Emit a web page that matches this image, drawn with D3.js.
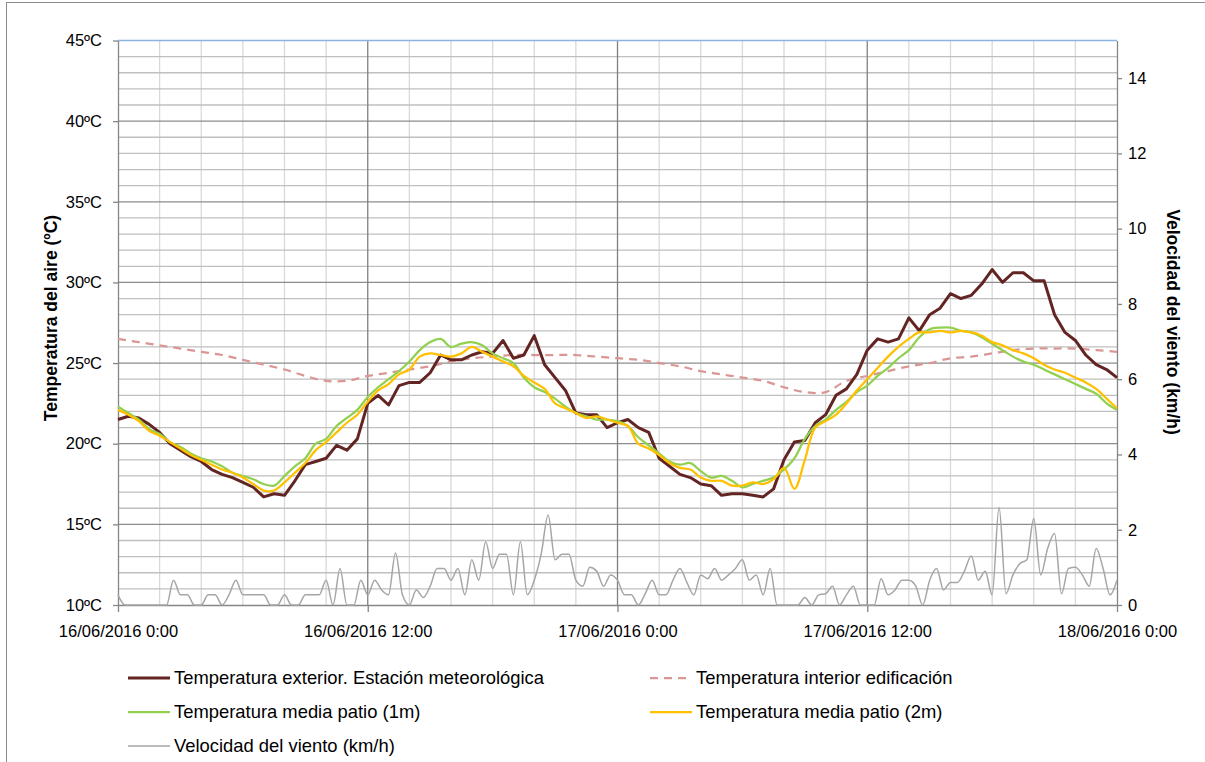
<!DOCTYPE html>
<html>
<head>
<meta charset="utf-8">
<script src="https://cdn.jsdelivr.net/npm/d3@7"></script>
<style>
  body { margin: 0; background: #fff; }
  svg text { font-family: "Liberation Sans", Arial, sans-serif; fill: #000; }
</style>
</head>
<body>
<svg id="chart"></svg>
<script>
// series every 30 min, from 16/06/2016 0:00 to 18/06/2016 0:00
var tExterior = [21.5, 21.7, 21.6, 21.2, 20.7, 20.0, 19.6, 19.2, 18.9, 18.4, 18.1, 17.9, 17.6, 17.3, 16.7, 16.9,
    16.8, 17.7, 18.7, 18.9, 19.1, 19.9, 19.6, 20.3, 22.5, 23.0, 22.4, 23.6, 23.8, 23.8, 24.4, 25.5,
    25.2, 25.2, 25.5, 25.7, 25.6, 26.4, 25.3, 25.5, 26.7, 24.9, 24.1, 23.3, 21.9, 21.8, 21.8, 21.0,
    21.3, 21.5, 21.0, 20.7, 19.1, 18.6, 18.1, 17.9, 17.5, 17.4, 16.8, 16.9, 16.9, 16.8, 16.7, 17.2,
    19.0, 20.1, 20.2, 21.3, 21.8, 23.0, 23.4, 24.3, 25.8, 26.5, 26.3, 26.5, 27.8, 27.0, 28.0, 28.4,
    29.3, 29.0, 29.2, 29.9, 30.8, 30.0, 30.6, 30.6, 30.1, 30.1, 28.0, 26.9, 26.4, 25.5, 24.9, 24.6, 24.1];
var tPatio1m = [22.3, 21.9, 21.5, 20.9, 20.6, 20.1, 19.8, 19.4, 19.1, 18.9, 18.6, 18.2, 18.0, 17.8, 17.5, 17.4,
    18.0, 18.6, 19.1, 20.0, 20.3, 21.1, 21.6, 22.1, 22.9, 23.5, 24.0, 24.5, 25.1, 25.8, 26.3, 26.5,
    26.0, 26.2, 26.3, 26.1, 25.6, 25.3, 25.0, 24.1, 23.5, 23.2, 22.8, 22.3, 21.9, 21.7, 21.5, 21.5,
    21.4, 21.1, 20.4, 19.9, 19.4, 18.9, 18.7, 18.8, 18.3, 17.9, 18.0, 17.7, 17.3, 17.5, 17.7, 17.9,
    18.4, 19.1, 20.3, 21.1, 21.5, 22.1, 22.6, 23.2, 23.6, 24.2, 24.7, 25.3, 25.8, 26.6, 27.1, 27.2,
    27.2, 27.0, 26.9, 26.6, 26.2, 25.8, 25.4, 25.1, 24.9, 24.6, 24.3, 24.0, 23.7, 23.4, 23.1, 22.5, 22.1];
var tPatio2m = [22.1, 21.8, 21.4, 20.8, 20.5, 20.1, 19.7, 19.3, 19.0, 18.7, 18.4, 18.2, 17.9, 17.5, 17.1, 17.1,
    17.6, 18.2, 18.8, 19.6, 20.1, 20.7, 21.3, 21.8, 22.6, 23.3, 23.7, 24.3, 24.6, 25.4, 25.6, 25.5,
    25.4, 25.6, 26.0, 25.7, 25.4, 25.1, 24.8, 24.2, 23.8, 23.4, 22.5, 22.2, 21.9, 21.6, 21.7, 21.5,
    21.3, 21.1, 20.0, 19.7, 19.3, 18.8, 18.5, 18.4, 17.9, 17.7, 17.7, 17.4, 17.4, 17.6, 17.5, 17.8,
    18.5, 17.2, 19.0, 21.0, 21.4, 21.8, 22.5, 23.3, 24.0, 24.7, 25.4, 26.0, 26.5, 26.9, 26.9, 27.0,
    26.9, 27.0, 26.9, 26.7, 26.3, 26.1, 25.8, 25.6, 25.3, 24.9, 24.6, 24.4, 24.1, 23.8, 23.4, 22.8, 22.2];
// hourly
var tInterior = [26.5, 26.3, 26.1, 25.9, 25.7, 25.5, 25.2, 24.9, 24.6, 24.2, 23.9, 23.9, 24.2, 24.4, 24.6, 24.8,
    25.1, 25.3, 25.4, 25.5, 25.5, 25.5, 25.5, 25.4, 25.3, 25.2, 25.0, 24.8, 24.5, 24.3, 24.1, 23.9,
    23.5, 23.2, 23.2, 23.9, 24.2, 24.5, 24.8, 25.0, 25.3, 25.4, 25.6, 25.8, 25.9, 25.9, 25.9, 25.8, 25.7];
// every 20 min
var wind = [0.27, 0, 0, 0, 0, 0, 0, 0, 0.66, 0.27, 0.27, 0, 0, 0.27, 0.27, 0, 0.27, 0.66, 0.27, 0.27,
    0.27, 0.27, 0, 0, 0.27, 0, 0, 0.27, 0.27, 0.27, 0.66, 0, 0.97, 0, 0, 0.66, 0.27, 0.66, 0.4, 0.27,
    1.38, 0.27, 0, 0.4, 0.2, 0.5, 0.97, 0.97, 0.66, 0.97, 0.27, 1.2, 0.66, 1.68, 0.97, 1.35, 1.35, 0.27, 1.68, 0.27,
    0.66, 1.35, 2.39, 1.2, 1.35, 1.35, 0.66, 0.5, 1.0, 0.9, 0.5, 0.8, 0.66, 0.27, 0.27, 0, 0.3, 0.66, 0.27, 0.27,
    0.66, 0.97, 0.6, 0.27, 0.8, 0.7, 0.97, 0.66, 0.8, 0.97, 1.2, 0.66, 0.8, 0.27, 0.97, 0, 0, 0, 0, 0.2,
    0, 0.27, 0.3, 0.5, 0, 0.27, 0.5, 0, 0, 0, 0.7, 0.27, 0.4, 0.66, 0.66, 0.5, 0, 0.66, 0.97, 0.4,
    0.6, 0.6, 0.9, 1.3, 0.66, 0.9, 0.27, 2.6, 0.3, 0.8, 1.1, 1.2, 2.3, 0.8, 1.5, 1.9, 0.3, 0.97, 1.0, 0.8,
    0.5, 1.5, 0.97, 0.27, 0.66];

var tempTicks = [10, 15, 20, 25, 30, 35, 40, 45];
var windTicks = [0, 2, 4, 6, 8, 10, 12, 14];

var legendItems = [
    { name: "Temperatura exterior. Estación meteorológica", color: "#632523", width: 3, dash: null },
    { name: "Temperatura interior edificación", color: "#d99694", width: 2.25, dash: "8,6" },
    { name: "Temperatura media patio (1m)", color: "#92d050", width: 2.25, dash: null },
    { name: "Temperatura media patio (2m)", color: "#ffc000", width: 2.25, dash: null },
    { name: "Velocidad del viento (km/h)", color: "#a6a6a6", width: 1.5, dash: null }
];

var width = 1205,
    height = 762;
var plotLeft = 118, plotRight = 1117, plotTop = 40.5, plotBottom = 605;

var svg = d3.select("#chart")
    .attr("width", width)
    .attr("height", height);

// chart border (cropped on the right and bottom)
svg.append("rect")
    .attr("x", 6.5).attr("y", 2.5)
    .attr("width", 1300).attr("height", 900)
    .attr("fill", "none").attr("stroke", "#8c8c8c").attr("stroke-width", 1);

var start = new Date(2016, 5, 16, 0, 0);
var end = new Date(2016, 5, 18, 0, 0);
function timeAt(i, minutes) {
    return new Date(start.getTime() + i * minutes * 60000);
}

var x = d3.scaleTime().domain([start, end]).range([plotLeft, plotRight]);
var y = d3.scaleLinear().domain([10, 45]).range([plotBottom, plotTop]);
var y2 = d3.scaleLinear().domain([0, 15]).range([plotBottom, plotTop]);

// grid
var grid = svg.append("g");
grid.selectAll(".vminor")
    .data(d3.range(0, 49, 2).filter(function (h) { return h % 12 != 0; }))
    .enter().append("line")
    .attr("x1", function (h) { return x(timeAt(h, 60)); })
    .attr("x2", function (h) { return x(timeAt(h, 60)); })
    .attr("y1", plotTop).attr("y2", plotBottom)
    .attr("stroke", "#d9d9d9").attr("stroke-width", 1.3);
grid.selectAll(".hminor")
    .data(d3.range(11, 45).filter(function (t) { return t % 5 != 0; }))
    .enter().append("line")
    .attr("x1", plotLeft).attr("x2", plotRight)
    .attr("y1", function (t) { return y(t); })
    .attr("y2", function (t) { return y(t); })
    .attr("stroke", "#bfbfbf").attr("stroke-width", 1.3);
grid.selectAll(".hmajor")
    .data([15, 20, 25, 30, 35, 40])
    .enter().append("line")
    .attr("x1", plotLeft).attr("x2", plotRight)
    .attr("y1", function (t) { return y(t); })
    .attr("y2", function (t) { return y(t); })
    .attr("stroke", "#8c8c8c").attr("stroke-width", 1.3);
grid.selectAll(".vmajor")
    .data([12, 24, 36])
    .enter().append("line")
    .attr("x1", function (h) { return x(timeAt(h, 60)); })
    .attr("x2", function (h) { return x(timeAt(h, 60)); })
    .attr("y1", plotTop).attr("y2", plotBottom)
    .attr("stroke", "#808080").attr("stroke-width", 1.3);
grid.append("line")
    .attr("x1", plotLeft).attr("x2", plotRight)
    .attr("y1", y(45)).attr("y2", y(45))
    .attr("stroke", "#8db3e2").attr("stroke-width", 1.3);

// axes
var fmt = d3.timeFormat("%d/%m/%Y %-H:%M");
var xAxis = svg.append("g")
    .attr("transform", "translate(0," + plotBottom + ")")
    .call(d3.axisBottom(x).tickValues([0, 12, 24, 36, 48].map(function (h) { return timeAt(h, 60); }))
        .tickFormat(fmt).tickSize(7).tickSizeOuter(0));
var yAxis = svg.append("g")
    .attr("transform", "translate(" + plotLeft + ",0)")
    .call(d3.axisLeft(y).tickValues(tempTicks).tickFormat(function (d) { return d + "ºC"; })
        .tickSize(5).tickSizeOuter(0));
var y2Axis = svg.append("g")
    .attr("transform", "translate(" + plotRight + ",0)")
    .call(d3.axisRight(y2).tickValues(windTicks).tickSize(5).tickSizeOuter(0));

[xAxis, yAxis, y2Axis].forEach(function (a) {
    a.select(".domain").attr("stroke", "#868686").attr("stroke-width", 1.3);
    a.selectAll(".tick line").attr("stroke", "#868686").attr("stroke-width", 1.3);
    a.selectAll("text").style("font-size", "16.5px").attr("fill", "#000");
});
xAxis.selectAll("text").attr("dy", "1.35em");
yAxis.selectAll("text").attr("x", -16);
y2Axis.selectAll("text").attr("x", 11);

// titles
svg.append("text")
    .attr("transform", "translate(57,318) rotate(-90)")
    .attr("text-anchor", "middle")
    .style("font-size", "17.5px").style("font-weight", "bold")
    .text("Temperatura del aire (ºC)");
svg.append("text")
    .attr("transform", "translate(1167,322) rotate(90)")
    .attr("text-anchor", "middle")
    .style("font-size", "17.5px").style("font-weight", "bold")
    .text("Velocidad del viento (km/h)");

// lines
function drawSeries(values, minutes, scale, item, curve) {
    var line = d3.line()
        .x(function (d, i) { return x(timeAt(i, minutes)); })
        .y(function (d) { return scale(d); })
        .curve(curve);
    svg.append("path")
        .datum(values)
        .attr("d", line)
        .attr("fill", "none")
        .attr("stroke", item.color)
        .attr("stroke-width", item.width)
        .attr("stroke-dasharray", item.dash)
        .attr("stroke-linejoin", "round");
}
drawSeries(wind, 20, y2, legendItems[4], d3.curveMonotoneX);
drawSeries(tInterior, 60, y, legendItems[1], d3.curveCatmullRom);
drawSeries(tExterior, 30, y, legendItems[0], d3.curveLinear);
drawSeries(tPatio1m, 30, y, legendItems[2], d3.curveCatmullRom);
drawSeries(tPatio2m, 30, y, legendItems[3], d3.curveCatmullRom);

// legend
var legendPos = [[128, 678], [650, 678], [128, 712], [650, 712], [128, 746]];
var legend = svg.append("g");
legendItems.forEach(function (item, i) {
    var p = legendPos[i];
    legend.append("line")
        .attr("x1", p[0]).attr("x2", p[0] + 42)
        .attr("y1", p[1]).attr("y2", p[1])
        .attr("stroke", item.color)
        .attr("stroke-width", item.width)
        .attr("stroke-dasharray", item.dash);
    legend.append("text")
        .attr("x", p[0] + 46).attr("y", p[1] + 6)
        .style("font-size", "18.4px")
        .text(item.name);
});
</script>
</body>
</html>
